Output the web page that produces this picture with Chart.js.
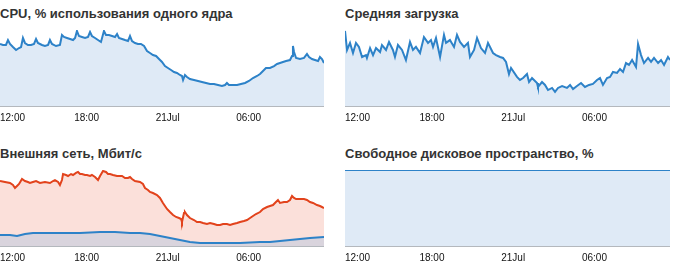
<!DOCTYPE html>
<html><head><meta charset="utf-8">
<script src="https://cdn.jsdelivr.net/npm/chart.js@4.4.1/dist/chart.umd.min.js"></script>
<style>
html,body{margin:0;padding:0;background:#fff;width:690px;height:267px;overflow:hidden;}
.t{position:absolute;font:bold 13px "Liberation Sans",Arial,sans-serif;color:#333;line-height:15px;white-space:nowrap;}
canvas{position:absolute;}
</style></head><body>
<div class="t" style="left:0;top:6px">CPU, % использования одного ядра</div>
<div class="t" style="left:345px;top:6px">Средняя загрузка</div>
<div class="t" style="left:0;top:146px">Внешняя сеть, Мбит/с</div>
<div class="t" style="left:345px;top:146px">Свободное дисковое пространство, %</div>
<canvas id="cpu" width="324" height="100" style="left:0;top:26px"></canvas>
<canvas id="load" width="325" height="100" style="left:345px;top:26px"></canvas>
<canvas id="net" width="324" height="100" style="left:0;top:166px"></canvas>
<canvas id="disk" width="325" height="100" style="left:345px;top:166px"></canvas>
<script>
// time window (hours since 00:00, 20 Jul)
const X_MIN = 11.58, X_MAX = 35.58;
const tickValues = [11.58, 18, 24, 30, 35.58];
const tickLabels = ['12:00', '18:00', '21Jul', '06:00', ''];

// CPU, % of one core
const cpuTimes = [
11.58,11.80,12.02,12.17,12.32,12.54,12.77,12.99,13.14,13.28,
13.43,13.65,13.88,14.10,14.25,14.39,14.69,14.91,15.14,15.28,
15.43,15.73,16.02,16.17,16.32,16.54,16.77,16.99,17.14,17.28,
17.43,17.65,17.88,18.10,18.25,18.39,18.62,18.84,19.06,19.28,
19.43,19.65,19.88,20.10,20.25,20.39,20.62,20.84,21.06,21.21,
21.36,21.58,21.80,22.02,22.25,22.47,22.69,22.91,23.14,23.36,
23.58,23.80,24.02,24.25,24.47,24.69,24.91,25.06,25.14,25.28,
25.43,25.65,25.95,26.25,26.54,26.84,27.14,27.43,27.73,28.02,
28.25,28.39,28.54,28.84,29.14,29.43,29.73,30.02,30.32,30.62,
30.84,31.06,31.28,31.58,31.88,32.10,32.32,32.54,32.77,33.06,
33.21,33.28,33.36,33.51,33.80,34.10,34.32,34.47,34.69,34.91,
35.14,35.28,35.43,35.58];
const cpuValues = [
81.6,80.3,80.3,86.8,81.6,77.6,73.7,76.3,77.6,89.5,
82.9,80.3,80.3,81.6,88.2,82.9,80.3,78.9,80.3,86.8,
81.6,78.9,80.3,93.4,90.8,89.5,88.2,86.8,89.5,98.7,
92.1,90.8,89.5,90.8,97.4,92.1,89.5,86.8,84.2,98.7,
93.4,93.4,92.1,90.8,94.7,89.5,88.2,86.8,85.5,92.1,
85.5,82.9,81.6,81.6,78.9,72.4,69.7,67.1,65.8,61.8,
57.9,52.6,50.0,47.4,44.7,43.4,40.8,39.5,34.2,40.8,
38.2,35.5,34.2,32.9,31.6,30.3,28.9,28.9,27.6,26.3,
27.6,30.3,27.6,27.6,27.6,28.9,30.3,32.9,36.8,39.5,
42.1,46.1,50.0,50.0,52.6,55.3,56.6,57.9,59.2,60.5,
65.8,78.9,71.1,63.2,61.8,63.2,68.4,64.5,61.8,60.5,
59.2,64.5,61.8,56.6];

// load average
const loadTimes = [
11.58,11.73,11.95,12.17,12.39,12.61,12.84,13.13,13.20,13.43,
13.65,13.87,14.17,14.31,14.61,14.83,15.12,15.27,15.49,15.79,
16.08,16.38,16.60,16.82,17.12,17.41,17.71,17.93,18.08,18.30,
18.60,18.89,19.04,19.33,19.63,19.85,20.07,20.37,20.66,20.81,
21.11,21.33,21.62,21.92,22.14,22.51,22.73,23.03,23.25,23.47,
23.69,23.84,24.28,24.50,24.73,25.02,25.17,25.39,25.76,25.83,
26.13,26.35,26.57,26.87,27.09,27.31,27.61,27.97,28.20,28.42,
28.71,29.01,29.30,29.60,29.89,30.19,30.41,30.63,30.93,31.15,
31.37,31.67,31.89,32.11,32.33,32.55,32.78,33.07,33.22,33.44,
33.66,33.96,34.18,34.40,34.70,34.92,35.14,35.43,35.58];
const loadValues = [
3.95,2.95,3.32,2.79,3.32,3.11,2.58,2.68,2.53,3.05,
2.68,3.05,2.84,3.21,2.95,3.37,2.95,2.58,3.21,2.95,
2.42,3.37,2.95,3.11,2.79,3.63,3.32,3.47,3.11,3.58,
2.58,3.74,3.32,3.47,3.11,3.74,3.37,3.11,3.32,2.58,
2.95,3.58,3.05,2.79,3.32,2.79,2.68,2.58,2.53,2.32,
1.68,2.00,1.53,1.37,1.47,1.68,1.26,1.47,1.21,1.00,
1.26,1.11,0.84,0.95,0.74,0.95,1.05,0.95,1.11,0.89,
1.05,1.21,1.00,1.11,1.16,1.37,1.47,1.11,1.47,1.53,
1.79,1.74,1.95,1.79,2.26,2.16,2.42,2.05,3.26,2.68,
2.26,2.53,2.32,2.53,2.26,2.42,2.16,2.58,2.42];

// external network, Mbit/s
const netInTimes = [
11.58,11.95,12.32,12.54,12.69,12.84,12.99,13.21,13.43,13.65,
13.80,14.02,14.25,14.54,14.91,15.28,15.51,15.65,15.88,16.02,
16.17,16.25,16.47,16.62,16.84,16.99,17.21,17.36,17.51,17.65,
17.88,18.02,18.25,18.39,18.62,18.84,18.99,19.21,19.43,19.58,
19.73,19.95,20.25,20.47,20.62,20.84,21.06,21.21,21.36,21.58,
21.95,22.17,22.32,22.54,22.69,22.91,23.21,23.43,23.65,23.80,
23.95,24.17,24.40,24.62,24.84,24.99,25.06,25.21,25.28,25.43,
25.65,25.95,26.17,26.40,26.62,26.91,27.14,27.43,27.65,27.88,
28.10,28.39,28.62,28.84,29.14,29.36,29.65,29.88,30.10,30.32,
30.54,30.84,31.06,31.36,31.58,31.80,32.02,32.17,32.32,32.62,
32.84,33.06,33.21,33.36,33.51,33.80,34.10,34.32,34.54,34.77,
35.06,35.28,35.43,35.58];
const netInValues = [
85.5,84.2,82.9,80.3,76.3,78.9,81.6,88.2,85.5,84.2,
82.9,84.2,85.5,82.9,84.2,82.9,85.5,86.8,84.2,80.3,
86.8,94.7,93.4,92.1,94.7,93.4,96.1,97.4,94.7,94.7,
93.4,93.4,92.1,93.4,90.8,86.8,92.1,98.7,97.4,94.7,
94.7,93.4,92.1,92.1,92.1,89.5,89.5,90.8,88.2,85.5,
84.2,81.6,76.3,73.7,71.1,69.7,67.1,63.2,56.6,52.6,
48.7,44.7,40.8,38.2,36.8,35.5,31.6,43.4,44.7,40.8,
36.8,34.2,31.6,31.6,30.3,28.9,30.3,28.9,27.6,27.6,
28.9,28.9,27.6,28.9,30.3,31.6,32.9,34.2,36.8,39.5,
42.1,44.7,48.7,51.3,52.6,53.9,57.9,60.5,56.6,57.9,
57.9,60.5,65.8,63.2,61.8,61.8,61.8,60.5,57.9,56.6,
53.9,52.6,51.3,50.0];
const netOutTimes = [
11.58,12.32,12.84,13.43,14.02,15.28,16.39,17.51,18.99,20.10,
21.21,21.95,22.69,23.43,24.17,24.91,25.65,26.40,27.88,29.36,
30.84,31.58,32.32,33.80,34.54,35.58];
const netOutValues = [
14.5,14.5,13.2,15.8,17.1,17.1,17.1,17.1,18.4,18.4,
17.1,17.1,15.8,13.2,10.5,7.9,5.3,3.9,3.9,3.9,
5.3,5.3,6.6,9.2,10.5,11.8];

// free disk space, %
const diskTimes = [11.58, 35.58];
const diskValues = [100, 100];

const BLUE = '#2d82c8', BLUE_FILL = '#dfeaf6';
const RED = '#e2431c', RED_FILL = '#fbe0da', OUT_FILL = '#d9d4dd';

function pts(times, vals) { return times.map((t, i) => ({x: t, y: vals[i]})); }

function makeChart(id, datasets, yMax) {
  return new Chart(document.getElementById(id), {
    type: 'line',
    data: {datasets},
    options: {
      responsive: false, animation: false, events: [],
      layout: {padding: {top: 4, left: 0, right: 0, bottom: 0}},
      plugins: {legend: {display: false}, tooltip: {enabled: false}, title: {display: false}},
      elements: {point: {radius: 0}, line: {tension: 0, borderWidth: 2}},
      scales: {
        x: {
          type: 'linear', min: X_MIN, max: X_MAX,
          grid: {display: false, drawTicks: true, tickLength: 6},
          border: {display: true, color: '#6b737c', width: 1.5},
          afterBuildTicks: s => { s.ticks = tickValues.map(v => ({value: v})); },
          afterFit: s => { s.height = 20; },
          ticks: {
            autoSkip: false, maxRotation: 0, minRotation: 0, align: 'inner', padding: 0,
            color: '#111', font: {family: '"Liberation Sans", Arial, sans-serif', size: 10},
            callback: (v, i) => tickLabels[i]
          }
        },
        y: {display: false, min: 0, max: yMax}
      }
    }
  });
}

makeChart('cpu', [{data: pts(cpuTimes, cpuValues), borderColor: BLUE, backgroundColor: BLUE_FILL, fill: 'origin'}], 100);
makeChart('load', [{data: pts(loadTimes, loadValues), borderColor: BLUE, backgroundColor: BLUE_FILL, fill: 'origin'}], 4);
makeChart('net', [
  {data: pts(netOutTimes, netOutValues), borderColor: BLUE, backgroundColor: OUT_FILL, fill: 'origin'},
  {data: pts(netInTimes, netInValues), borderColor: RED, backgroundColor: RED_FILL, fill: 'origin'}
], 100);
makeChart('disk', [{data: pts(diskTimes, diskValues), borderColor: BLUE, backgroundColor: BLUE_FILL, fill: 'origin'}], 100);
</script>
</body></html>
